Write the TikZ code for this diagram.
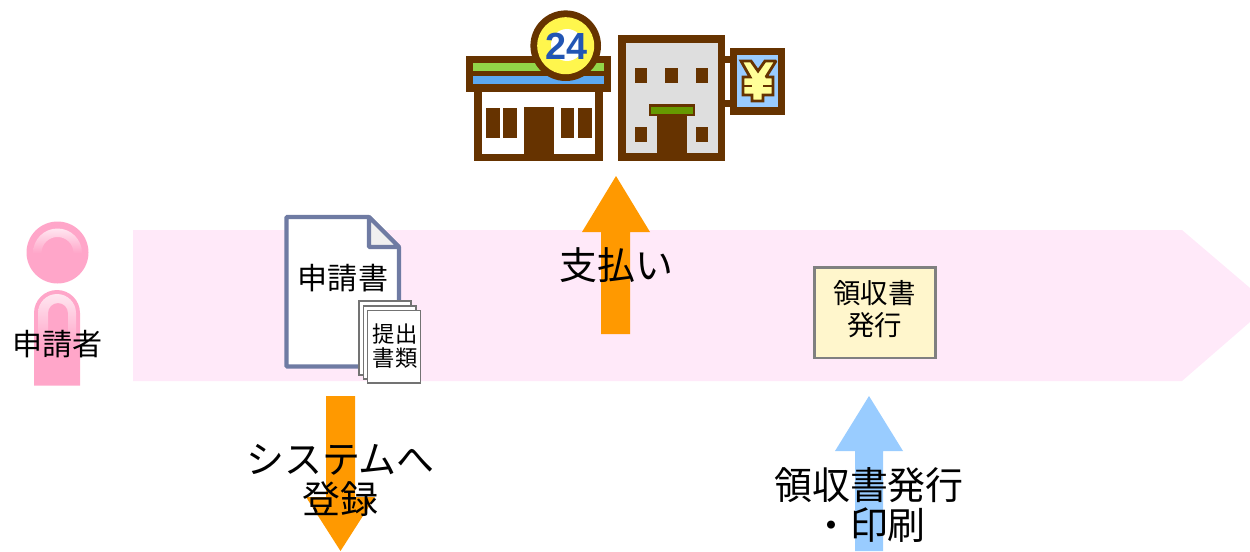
\documentclass[tikz,border=0pt]{standalone}
\usepackage{fontspec}
\setmainfont{Noto Sans CJK JP}
\newfontfamily\latinbold{Liberation Sans}[BoldFont={Liberation Sans Bold}]
\definecolor{band}{HTML}{FFE9F9}
\definecolor{brownx}{HTML}{663300}
\definecolor{orangex}{HTML}{FF9900}
\definecolor{skyx}{HTML}{99CCFF}
\definecolor{pinkx}{HTML}{FFA6C9}
\definecolor{pinkl}{HTML}{FFE6F0}
\definecolor{docline}{HTML}{6F7BA3}
\definecolor{rcptfill}{HTML}{FFF6CC}
\definecolor{greenx}{HTML}{92D648}
\definecolor{bluex}{HTML}{5CA8F0}
\definecolor{yellowx}{HTML}{FFF64D}
\definecolor{awning}{HTML}{669900}
\definecolor{yenx}{HTML}{FFFF99}
\definecolor{num}{HTML}{2255B4}
\tikzset{
  lbl/.style={inner sep=0pt,align=center,text=black},
  big/.style={lbl,font=\fontsize{21.6pt}{22.7pt}\selectfont},
  mid/.style={lbl,font=\fontsize{17.1pt}{19pt}\selectfont},
  rcpt/.style={lbl,font=\fontsize{15.6pt}{18pt}\selectfont},
  small/.style={lbl,font=\fontsize{12.7pt}{13.6pt}\selectfont},
  brownfill/.style={fill=brownx,draw=none},
  sheet/.style={fill=white,draw=black!55,line width=0.6pt},
}
\begin{document}
\begin{tikzpicture}[x=0.02cm,y=-0.02cm]
\useasboundingbox (0,0) rectangle (1250,551);
% band
\fill[band] (133,230) -- (1182,230) -- (1250,288) -- (1250,322) -- (1182,381) -- (133,381) -- cycle;
% person
\fill[pinkx] (57.5,252.5) circle (31);
\shade[top color=pinkl,bottom color=pinkx] (33,253) arc (180:360:24.5) -- (73.5,253) arc (360:180:16) -- cycle;
\fill[pinkx] (34,385.5) -- (34,313) arc (180:360:23) -- (80,385.5) -- cycle;
\shade[top color=pinkl,bottom color=pinkx] (38,345) -- (38,313) arc (180:360:19) -- (76,345) -- (68,345) -- (68,313) arc (360:180:10) -- (48,345) -- cycle;
% document
\draw[docline,fill=white,line width=2.3pt,line join=bevel] (286.5,217) -- (369,217) -- (399,247) -- (399,366.5) -- (286.5,366.5) -- cycle;
\draw[docline,fill=black!6,line width=2.3pt,line join=bevel] (369,217) -- (369,247) -- (399,247) -- cycle;
\draw[sheet] (359,301) rectangle (411,375);
\draw[sheet] (363.5,306) rectangle (416,379);
\draw[sheet] (367.5,310.5) rectangle (420.5,383);
% arrows
\fill[orangex] (601,334) -- (601,232) -- (582,232) -- (616,176) -- (650,232) -- (630,232) -- (630,334) -- cycle;
\fill[orangex] (326,396) -- (355,396) -- (355,497) -- (375,497) -- (340.5,551) -- (306,497) -- (326,497) -- cycle;
\fill[skyx] (855,551) -- (855,451) -- (835,451) -- (869,396) -- (903,451) -- (883,451) -- (883,551) -- cycle;
% receipt box
\draw[draw=black!50,fill=rcptfill,line width=1.7pt] (814,267.5) rectangle (935.5,358);
% store
\fill[brownfill] (474,92) rectangle (603,161);
\fill[white] (482,92) rectangle (595,154);
\fill[brownfill] (524,107) rectangle (554,154);
\foreach \a/\b in {486/500,503/517,561/574,578/592} \fill[brownfill] (\a,108) rectangle (\b,138);
\fill[brownfill] (466,56) rectangle (611,92);
\fill[greenx] (473,63) rectangle (604,71);
\fill[bluex] (473,76) rectangle (604,84);
\fill[brownfill] (565.7,45.7) circle (35.3);
\fill[yellowx] (565.7,45.7) circle (28.5);
\fill[white] (567,45) circle (16);
% bank
\fill[brownfill] (618,35) rectangle (725,161);
\fill[fill=black!13] (626,43) rectangle (718,153);
\foreach \a/\b in {635/647,665/678,696/708} \fill[brownfill] (\a,68) rectangle (\b,83);
\foreach \a/\b in {635/647,696/708} \fill[brownfill] (\a,127) rectangle (\b,142);
\fill[brownfill] (657,115) rectangle (687,154);
\fill[brownfill] (649,104) rectangle (695,116);
\fill[awning] (651,107) rectangle (693,114);
% sign
\fill[brownfill] (725,56) rectangle (730,63);
\fill[brownfill] (725,100) rectangle (730,107);
\fill[brownfill] (730,48) rectangle (785,115);
\fill[skyx] (737,55) rectangle (778,107);
\draw[brownx,line width=1.6pt,line join=miter,miter limit=2,fill=yenx]
 (741,61) -- (751,61) -- (758,71) -- (765,61) -- (776,61) -- (766,77) -- (773,77) -- (773,95) -- (763,95) -- (763,101) -- (752,101) -- (752,95) -- (743,95) -- (743,77) -- (750,77) -- cycle;
\draw[brownx,line width=1.1pt] (743,86) -- (752,86) (763,86) -- (773,86);
% texts
\node[mid] (applicant) at (57.5,344) {申請者};
\node[mid] (form) at (343,278) {申請書};
\node[small] (docs) at (395,346) {提出\\書類};
\node[big] (pay) at (616.5,265) {支払い};
\node[rcpt] (receipt) at (874.5,309) {領収書\\発行};
\node[big] (register) at (340.5,480.5) {システムへ\\登録};
\node[big] (issue) at (869,505) {領収書発行\\・印刷};
\node[inner sep=0pt,text=num,font=\latinbold\bfseries\fontsize{21.5pt}{21pt}\selectfont] (h24) at (566.5,46) {24};
\end{tikzpicture}
\end{document}
